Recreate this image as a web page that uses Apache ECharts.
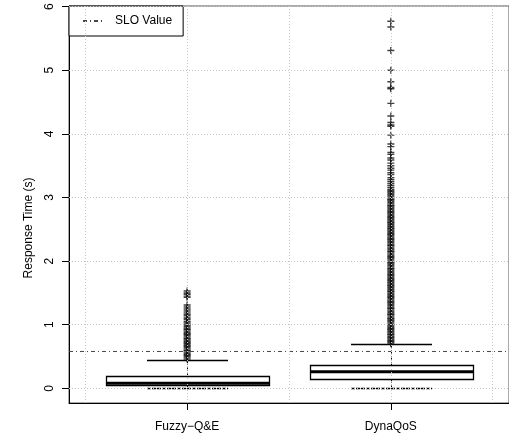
<!DOCTYPE html>
<html><head><meta charset="utf-8">
<script src="https://cdn.jsdelivr.net/npm/echarts@6/dist/echarts.min.js"></script>
<style>html,body{margin:0;padding:0;background:#fff}#c{width:509px;height:436px}</style>
</head><body><div id="c"></div>
<script>
// ---- data ----
const categories = ['Fuzzy\u2212Q&E', 'DynaQoS'];
const lowerWhisker = [0.00, 0.00];
const q1 = [0.05, 0.15];
const median = [0.08, 0.26];
const q3 = [0.20, 0.37];
const upperWhisker = [0.45, 0.69];
const outliersFuzzy = [0.46,0.48,0.50,0.52,0.53,0.55,0.57,0.59,0.60,0.62,0.64,0.66,0.67,0.69,0.71,0.72,0.74,0.76,0.78,0.79,0.81,0.83,0.85,0.86,0.88,0.90,0.92,0.93,0.95,0.97,0.99,1.01,1.03,1.05,
  1.08,1.10,1.12,1.15,1.17,1.20,1.23,1.25,1.28,1.31,1.43,1.45,1.48,1.50,1.53];
const outliersDyna = [0.70,0.72,0.74,0.75,0.77,0.79,0.80,0.82,0.84,0.85,0.87,0.89,0.91,0.93,0.94,0.96,0.98,1.00,1.01,1.03,1.05,1.07,1.09,1.10,1.12,1.14,1.16,1.17,1.19,1.21,
  1.23,1.25,1.26,1.28,1.30,1.32,1.34,1.35,1.37,1.39,1.41,1.43,1.44,1.46,1.48,1.50,1.52,1.53,1.55,1.57,1.59,1.61,1.62,1.64,1.66,1.68,1.70,1.71,1.73,1.75,
  1.77,1.79,1.80,1.82,1.84,1.86,1.88,1.89,1.91,1.93,1.95,1.97,1.98,2.00,2.02,2.04,2.06,2.07,2.09,2.11,2.13,2.15,2.16,2.18,2.20,2.22,2.24,2.25,2.27,2.29,
  2.31,2.33,2.34,2.36,2.38,2.40,2.42,2.43,2.45,2.47,2.49,2.51,2.52,2.54,2.56,2.58,2.60,2.61,2.63,2.65,2.67,2.69,2.70,2.72,2.74,2.76,2.78,2.79,2.81,2.83,
  2.85,2.87,2.88,2.90,2.92,2.94,2.96,2.97,2.99,3.01,3.03,3.05,3.07,3.09,3.11,
  3.13,3.16,3.19,3.22,3.25,3.28,3.31,3.36,3.39,3.43,3.46,3.50,3.54,3.59,3.62,3.68,3.71,3.80,3.84,
  3.98,4.12,4.14,4.18,4.28,4.48,4.71,4.73,4.82,5.00,5.31,5.68,5.77];
const sloValue = 0.58;
const yTickValues = [0, 1, 2, 3, 4, 5, 6];
const xGridValues = [0.5, 1, 1.5, 2, 2.5];
const xRange = [0.42, 2.58];
const yRange = [-0.23, 6.01];

// ---- build ----
const font = 'Liberation Sans';
const boxData = categories.map((c, i) => [i + 1, lowerWhisker[i], q1[i], median[i], q3[i], upperWhisker[i]]);
const outlierData = [];
outliersFuzzy.forEach(v => outlierData.push([1, v]));
outliersDyna.forEach(v => outlierData.push([2, v]));
const px = v => Math.round(v) + 0.5;

const chart = echarts.init(document.getElementById('c'), null, {renderer: 'canvas'});
chart.setOption({
  animation: false,
  backgroundColor: '#fff',
  grid: {left: 69, top: 6, right: -3, bottom: 33, show: true, borderColor: '#555', borderWidth: 1, backgroundColor: 'transparent'},
  legend: {
    left: 69, top: 6, data: ['SLO Value'], itemWidth: 21, itemHeight: 12,
    padding: [9, 11, 9, 13], borderColor: '#000', borderWidth: 1, borderRadius: 0,
    backgroundColor: '#fff', selectedMode: false,
    itemStyle: {opacity: 0},
    textStyle: {fontSize: 12, color: '#000', fontFamily: font, padding: [0, 0, 0, 6]}
  },
  xAxis: {
    type: 'value', min: xRange[0], max: xRange[1],
    axisLine: {show: true, onZero: false, lineStyle: {color: '#000', width: 1}},
    axisTick: {show: true, customValues: [1, 2], length: 7, lineStyle: {color: '#000'}},
    axisLabel: {customValues: [1, 2], formatter: v => categories[Math.round(v) - 1] || '', fontSize: 12, color: '#000', fontFamily: font, margin: 18},
    splitLine: {show: false}
  },
  yAxis: {
    type: 'value', min: yRange[0], max: yRange[1],
    name: 'Response Time (s)', nameLocation: 'middle', nameRotate: 90, nameGap: 34,
    nameTextStyle: {fontSize: 12, color: '#000', fontFamily: font, padding: [0, 47, 0, 0]},
    axisLine: {show: true, lineStyle: {color: '#000', width: 1}},
    axisTick: {show: true, customValues: yTickValues, length: 7, lineStyle: {color: '#000'}},
    axisLabel: {customValues: yTickValues, rotate: 90, fontSize: 12, color: '#000', fontFamily: font, margin: 13},
    splitLine: {show: false}
  },
  series: [
    {
      type: 'scatter', name: 'grid', silent: true, data: [],
      markLine: {
        silent: true, symbol: 'none', label: {show: false},
        lineStyle: {color: '#c4c4c4', type: [1, 2], width: 1},
        data: yTickValues.map(v => ({yAxis: v})).concat(xGridValues.map(v => ({xAxis: v})))
      }
    },
    {
      type: 'custom', name: 'box', silent: true, data: boxData,
      encode: {x: 0, y: [1, 2, 3, 4, 5]},
      renderItem: (params, api) => {
        const x = api.value(0);
        const half = api.size([0.4, 0])[0];
        const cap = half / 2;
        const cx = px(api.coord([x, 0])[0]);
        const yLw = px(api.coord([x, api.value(1)])[1]);
        const yA = px(api.coord([x, api.value(2)])[1]);
        const yM = api.coord([x, api.value(3)])[1];
        const yB = px(api.coord([x, api.value(4)])[1]);
        const yUw = px(api.coord([x, api.value(5)])[1]);
        const l = Math.round(cx - half) + 0.5, r = Math.round(cx + half) + 0.5;
        const black = {stroke: '#000', lineWidth: 1.3, fill: null};
        return {type: 'group', children: [
          {type: 'line', shape: {x1: cx, y1: yB, x2: cx, y2: yUw}, style: Object.assign({}, black, {lineWidth: 1, lineDash: [3, 3]})},
          {type: 'line', shape: {x1: cx, y1: yLw, x2: cx, y2: yA}, style: Object.assign({}, black, {lineWidth: 1, lineDash: [3, 3]})},
          {type: 'line', shape: {x1: Math.round(cx - cap), y1: yUw, x2: Math.round(cx + cap), y2: yUw}, style: black},
          {type: 'line', shape: {x1: Math.round(cx - cap), y1: yLw, x2: Math.round(cx + cap), y2: yLw}, style: Object.assign({}, black, {lineDash: [4, 1]})},
          {type: 'rect', shape: {x: l, y: yB, width: r - l, height: yA - yB}, style: {fill: '#fff', stroke: '#000', lineWidth: 1.3}},
          {type: 'line', shape: {x1: l, y1: yM, x2: r, y2: yM}, style: {stroke: '#000', lineWidth: 3}}
        ]};
      }
    },
    {
      type: 'scatter', name: 'outliers', silent: true, data: outlierData,
      symbol: 'path://M4,0H6V4H10V6H6V10H4V6H0V4H4Z', symbolSize: 7,
      itemStyle: {color: '#111'}
    },
    {
      type: 'line', name: 'SLO Value', silent: true, symbol: 'none',
      data: [[xRange[0], sloValue], [xRange[1], sloValue]],
      lineStyle: {color: '#444', width: 1, type: [4, 3, 1, 3]},
      itemStyle: {color: '#444'}
    }
  ]
});
</script></body></html>
